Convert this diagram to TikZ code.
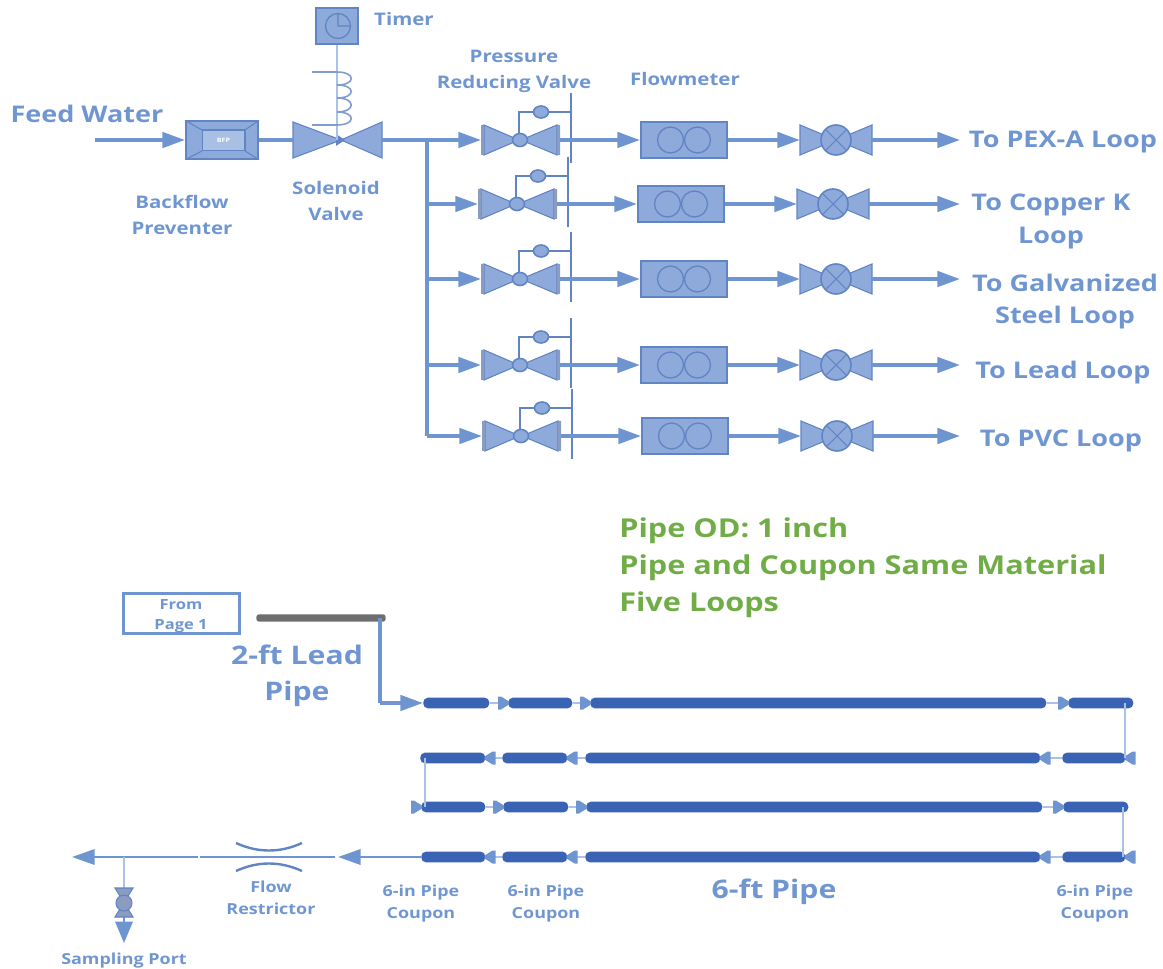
\documentclass[tikz,border=0pt]{standalone}
\usepackage{fontspec}
\setmainfont{Open Sans}[FakeStretch=1.18]
\usepackage{xcolor}
\definecolor{flowblue}{RGB}{111,149,208}
\definecolor{fillblue}{RGB}{142,170,219}
\definecolor{edgeblue}{RGB}{96,132,196}
\definecolor{thinblue}{RGB}{170,194,232}
\definecolor{pipeblue}{RGB}{59,99,180}
\definecolor{textblue}{RGB}{112,150,210}
\definecolor{notegreen}{RGB}{112,173,71}
\definecolor{leadgray}{RGB}{110,110,112}
\usetikzlibrary{arrows.meta,positioning,shapes.geometric,calc}

\begin{document}
\begin{tikzpicture}[
  x=0.75pt, y=-0.75pt,
  bigtxt/.style={font=\bfseries\fontsize{17.2}{24.5}\selectfont, text=textblue, align=center, inner sep=0pt},
  hugetxt/.style={font=\bfseries\fontsize{19.2}{27}\selectfont, text=textblue, align=center, inner sep=0pt},
  midtxt/.style={font=\bfseries\fontsize{13}{19.5}\selectfont, text=textblue, align=center, inner sep=0pt},
  smalltxt/.style={font=\bfseries\fontsize{11.4}{16.5}\selectfont, text=textblue, align=center, inner sep=0pt},
  greentxt/.style={font=\bfseries\fontsize{19.5}{27}\selectfont, text=notegreen, anchor=west, inner sep=0pt},
  devbox/.style={rectangle, draw=edgeblue, fill=fillblue, line width=1.5pt, inner sep=0pt},
  vshape/.style={draw=edgeblue, fill=fillblue, line width=0.8pt, line join=miter},
  flow/.style={draw=flowblue, line width=2.8pt},
  arr/.style={flow, -{Triangle[length=17pt, width=11.5pt]}},
  thinline/.style={draw=thinblue, line width=1.2pt},
  pipe/.style={rectangle, rounded corners=3.5pt, fill=pipeblue, minimum height=8pt, inner sep=0pt},
  flare/.pic={\fill[flowblue] (-10,-6.5) -- (-7,-6.5) -- (1,-1.5) -- (1,1.5) -- (-7,6.5) -- (-10,6.5) -- cycle;},
  prv/.pic={
    \draw[vshape] (-36,-15) -- (-1,0) -- (-36,15) -- cycle;
    \draw[vshape] (37,-15) -- (1,0) -- (37,15) -- cycle;
    \fill[fillblue!70!gray] (-39,-15) rectangle (-36,15) (37,-15) rectangle (40,15);
    \draw[edgeblue, line width=1.2pt] (-1,-7) -- (-1,-28) -- (51,-28);
    \draw[edgeblue, line width=1.2pt] (51,-47) -- (51,23);
    \draw[vshape, line width=1.2pt] (0,0) ellipse (7.5 and 6.5);
    \draw[vshape, line width=1.2pt] (21,-28) ellipse (7.5 and 6);
    \coordinate (-in) at (-39,0);
    \coordinate (-out) at (40,0);
  },
  shutoff/.pic={
    \draw[vshape] (-36,-15) -- (0,0) -- (-36,15) -- cycle;
    \draw[vshape] (36,-15) -- (0,0) -- (36,15) -- cycle;
    \draw[vshape, line width=1.2pt] (0,0) circle (15);
    \draw[edgeblue, line width=0.8pt] (-10,-10) -- (10,10) (-10,10) -- (10,-10);
    \coordinate (-in) at (-36,0);
    \coordinate (-out) at (36,0);
  }
]
\useasboundingbox (0,0) rectangle (1163,969);

% Feed line
\coordinate (feed) at (95,140);
\node[devbox, minimum width=54pt, minimum height=28pt] (bfp) at (222,140) {};
\draw[edgeblue, line width=0.8pt] (bfp.north west) -- (202,130) (bfp.south west) -- (202,151)
  (bfp.north east) -- (245,130) (bfp.south east) -- (245,151);
\node[rectangle, draw=edgeblue, fill=fillblue!75!white, line width=1pt, minimum width=32pt, minimum height=15.5pt,
      inner sep=0pt, font=\bfseries\fontsize{4.5}{5}\selectfont, text=white] (bfpin) at (223.5,140.5) {BFP};
\draw[arr] (feed) -- (bfp.west);

% Solenoid valve and timer
\draw[vshape] (293,122) -- (341,140) -- (293,158) -- cycle;
\draw[vshape] (382,122) -- (341,140) -- (382,158) -- cycle;
\coordinate (solin) at (293,140);
\coordinate (solmid) at (337,140);
\coordinate (solout) at (382,140);
\draw[flow] (bfp.east) -- (solin);
\fill[edgeblue] (336,134) -- (345,140) -- (336,146) -- cycle;
\node[devbox, minimum width=31pt, minimum height=27pt] (timer) at (337,26) {};
\draw[edgeblue, line width=1pt] (338,26) circle (12.5) (338,13.5) -- (338,26) -- (350.5,26);
\draw[thinline] (timer.south) -- (solmid);
\draw[draw=edgeblue!80!white, line width=1.2pt] (312,72) -- (337,72)
  .. controls (356,72) and (356,85) .. (337,85)
  .. controls (356,85) and (356,98) .. (337,98)
  .. controls (356,98) and (356,112) .. (337,112)
  .. controls (356,112) and (356,125) .. (337,125) -- (312,125);

% Header
\coordinate (tee) at (427,140);
\coordinate (tail) at (427,436);
\draw[flow, line join=miter] (solout) -- (tee) -- (tail);

% Five branches
\foreach \n/\y/\dx in {1/140/0, 2/204/-3, 3/279/0, 4/365/0, 5/436/1} {
  \pic (prv\n) at (520+\dx,\y) {prv};
  \node[devbox, minimum width=64.5pt, minimum height=27pt] (fm\n) at (684+\dx,\y) {};
  \draw[edgeblue, line width=1pt] ($(fm\n)+(-13.5,0)$) circle (13) ($(fm\n)+(13.5,0)$) circle (13);
  \pic (sv\n) at (836+\dx,\y) {shutoff};
  \coordinate (end\n) at (960,\y);
  \coordinate (tap\n) at (427,\y);
  \draw[arr] (tap\n) -- (prv\n-in);
  \draw[arr] (prv\n-out) -- (fm\n.west);
  \draw[arr] (fm\n.east) -- (sv\n-in);
  \draw[arr] (sv\n-out) -- (end\n);
}

% Top labels
\node[bigtxt] (lfeed) at (87,114) {Feed Water};
\node[midtxt] (ltimer) at (404,19) {Timer};
\node[midtxt] (lbfp) at (182,215) {Backflow\\Preventer};
\node[midtxt] (lsol) at (336,201) {Solenoid\\Valve};
\node[midtxt] (lprv) at (514,71) {Pressure\\Reducing Valve};
\node[midtxt] (lfm) at (685,79) {Flowmeter};
\node[bigtxt] (lpex) at (1063,142) {To PEX-A Loop};
\node[bigtxt] (lcu) at (1051,221.5) {To Copper K\\Loop};
\node[bigtxt] (lgal) at (1065,301.5) {To Galvanized\\Steel Loop};
\node[bigtxt] (llead) at (1063,373) {To Lead Loop};
\node[bigtxt] (lpvc) at (1061,441) {To PVC Loop};

% Note
\node[greentxt] (note1) at (619,531) {Pipe OD: 1 inch};
\node[greentxt] (note2) at (619,568) {Pipe and Coupon Same Material};
\node[greentxt] (note3) at (619,605) {Five Loops};

% Lead pipe inlet
\node[rectangle, draw=flowblue, line width=2.2pt, minimum width=87pt, minimum height=30pt,
      inner sep=0pt] (page) at (181.5,613.5) {};
\node[smalltxt, font=\bfseries\fontsize{10.5}{15}\selectfont] (lpage) at (181,616) {From\\Page 1};
\node[rectangle, rounded corners=2pt, fill=leadgray, minimum width=97pt, minimum height=5.5pt, inner sep=0pt] (lead) at (321,618) {};
\node[hugetxt] (llp) at (297,676) {2-ft Lead\\Pipe};

% Pipe runs
\foreach \r/\y/\ax/\bx/\cx/\dx/\ex/\fx/\gx/\hx in {
  1/703/423/489/508/572/590/1046/1068/1133,
  2/758/420/485/502/567/585/1040/1062/1125,
  3/807/421/485/503/568/586/1042/1063/1128,
  4/857/421/485/502/567/585/1040/1062/1125} {
  \node[pipe, anchor=west, minimum width={(\bx-\ax)*0.75pt}] (c\r a) at (\ax,\y) {};
  \node[pipe, anchor=west, minimum width={(\dx-\cx)*0.75pt}] (c\r b) at (\cx,\y) {};
  \node[pipe, anchor=west, minimum width={(\fx-\ex)*0.75pt}] (p\r) at (\ex,\y) {};
  \node[pipe, anchor=west, minimum width={(\hx-\gx)*0.75pt}] (c\r c) at (\gx,\y) {};
  \draw[thinline] (c\r a) -- (c\r b);
  \draw[thinline] (c\r b) -- (p\r);
  \draw[thinline] (p\r) -- (c\r c);
}
\foreach \r in {1,3} {
  \pic at (c\r b.west) {flare};
  \pic at (p\r.west) {flare};
  \pic at (c\r c.west) {flare};
}
\pic at (c3a.west) {flare};
\foreach \r in {2,4} {
  \pic[xscale=-1] at (c\r a.east) {flare};
  \pic[xscale=-1] at (c\r b.east) {flare};
  \pic[xscale=-1] at (p\r.east) {flare};
  \pic[xscale=-1] at (c\r c.east) {flare};
}

% Returns between runs
\coordinate (b1) at (1125,703);
\coordinate (b2) at (1125,758);
\coordinate (b3) at (425,758);
\coordinate (b4) at (425,807);
\coordinate (b5) at (1123,807);
\coordinate (b6) at (1123,857);
\draw[thinline] (b1) -- (b2) (b3) -- (b4) (b5) -- (b6);

\coordinate (drop) at (380,618);
\coordinate (bend) at (380,703);
\draw[flow, line join=miter] (drop) -- (bend);
\draw[arr] (bend) -- (c1a.west);

% Outlet
\coordinate (res) at (338,857);
\coordinate (resin) at (335,857);
\coordinate (resout) at (200,857);
\coordinate (split) at (198,857);
\coordinate (outl) at (72,857);
\coordinate (samp) at (124,857);
\coordinate (samptip) at (124,943);
\coordinate (sv) at (124,903);
\draw[flow, -{Triangle[length=17pt, width=11.5pt]}, line width=1.8pt] (c4a.west) -- (res);
\draw[flow, line width=1.6pt] (resin) -- (resout);
\draw[flow, -{Triangle[length=17pt, width=11.5pt]}, line width=1.8pt] (split) -- (outl);
\draw[thinline, line width=2pt] (samp) -- (sv);
\draw[flow, -{Triangle[length=16pt, width=13pt]}, line width=1.6pt] (sv) -- (samptip);
\draw[vshape, fill=fillblue!70!gray] (115,888) -- (133,888) -- (115,917) -- (133,917) -- cycle;
\draw[vshape, fill=fillblue!70!gray] (sv) circle (8);

% Flow restrictor
\draw[draw=edgeblue, line width=1.8pt] (236,843) .. controls (258,853) and (280,853) .. (302,843);
\draw[draw=edgeblue, line width=1.8pt] (236,871) .. controls (258,861) and (280,861) .. (302,871);

% Bottom labels
\node[smalltxt] (lres) at (271,898) {Flow\\Restrictor};
\node[smalltxt] (lc1) at (421,904) {6-in Pipe\\Coupon};
\node[smalltxt] (lc2) at (546,904) {6-in Pipe\\Coupon};
\node[smalltxt] (lc3) at (1095,904) {6-in Pipe\\Coupon};
\node[hugetxt] (lp6) at (774,892) {6-ft Pipe};
\node[smalltxt] (lsamp) at (124,961) {Sampling Port};
\end{tikzpicture}
\end{document}
